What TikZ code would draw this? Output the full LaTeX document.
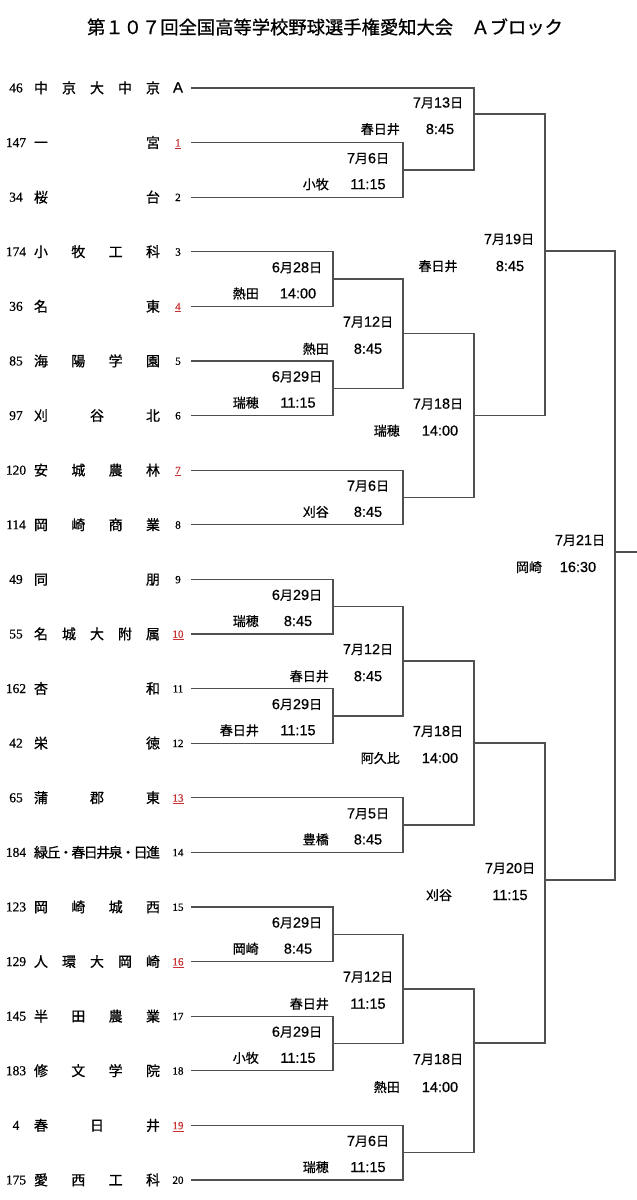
\documentclass[tikz,border=0pt]{standalone}
\usepackage{fontspec}
\setmainfont{Liberation Serif}
\newfontfamily\jp{Noto Sans CJK JP}[FakeBold=0.8]
\newfontfamily\ar{Liberation Sans}[FakeBold=0.6]
\newfontfamily\sr{Liberation Serif}[FakeBold=0.6]
\definecolor{ln}{HTML}{505050}
\definecolor{sd}{HTML}{C83232}
\newcommand{\J}[1]{{\jp\fontsize{13}{13}\selectfont #1}}
\newcommand{\rd}[1]{\textcolor{sd}{\underline{#1}}}
\tikzset{
 bl/.style={draw=ln, line width=1.25pt},
 lb/.style={inner sep=0pt, anchor=base, yshift=-5pt, font=\ar\fontsize{14.5}{14.5}\selectfont},
 vn/.style={inner sep=0pt, anchor=base, yshift=-5pt, font=\jp\fontsize{13}{13}\selectfont},
 vnr/.style={vn, anchor=base east},
 nm/.style={inner sep=0pt, anchor=base, yshift=-5.2pt, font=\jp\fontsize{14}{14}\selectfont},
 num/.style={inner sep=0pt, anchor=base, yshift=-4.4pt, font=\sr\fontsize{13.5}{13.5}\selectfont},
 seed/.style={inner sep=0pt, anchor=base, yshift=-3.8pt, font=\sr\fontsize{11}{11}\selectfont},
}
\newcommand{\team}[5]{%
  \pgfmathsetmacro{\yy}{88+54.6*#1}%
  \node[num] (L#1) at (16,\yy) {#4};%
  \foreach \c [count=\k from 0] in {#3} {%
    \pgfmathsetmacro{\xx}{41+\k*112/(#2-1)}%
    \node[nm] (T#1-\k) at (\xx,\yy) {\c};%
  }%
  \node[seed] (S#1) at (178,\yy) {#5};%
  \coordinate (s#1) at (191,\yy);%
}
\newcommand{\bj}[3]{\draw[bl] (#1) -- (#1 -| #3) -- (#2 -| #3) -- (#2);}
\begin{document}
\begin{tikzpicture}[x=1pt,y=-1pt]
\useasboundingbox (0,0) rectangle (637,1200);
\fill[white] (0,0) rectangle (637,1200);
\node[font=\jp\fontsize{18.3}{18.3}\selectfont, inner sep=0pt, anchor=base, yshift=-7pt] (title) at (325,27) {第１０７回全国高等学校野球選手権愛知大会　Ａブロック};

\team{0}{5}{中,京,大,中,京}{46}{\ar\fontsize{15}{15}\selectfont\raisebox{-0.8pt}{A}}
\team{1}{2}{一,宮}{147}{\rd{1}}
\team{2}{2}{桜,台}{34}{2}
\team{3}{4}{小,牧,工,科}{174}{3}
\team{4}{2}{名,東}{36}{\rd{4}}
\team{5}{4}{海,陽,学,園}{85}{5}
\team{6}{3}{刈,谷,北}{97}{6}
\team{7}{4}{安,城,農,林}{120}{\rd{7}}
\team{8}{4}{岡,崎,商,業}{114}{8}
\team{9}{2}{同,朋}{49}{9}
\team{10}{5}{名,城,大,附,属}{55}{\rd{10}}
\team{11}{2}{杏,和}{162}{11}
\team{12}{2}{栄,徳}{42}{12}
\team{13}{3}{蒲,郡,東}{65}{\rd{13}}
\team{14}{10}{緑,丘,・,春,日,井,泉,・,日,進}{184}{14}
\team{15}{4}{岡,崎,城,西}{123}{15}
\team{16}{5}{人,環,大,岡,崎}{129}{\rd{16}}
\team{17}{4}{半,田,農,業}{145}{17}
\team{18}{4}{修,文,学,院}{183}{18}
\team{19}{3}{春,日,井}{4}{\rd{19}}
\team{20}{4}{愛,西,工,科}{175}{20}

% match points (vertical x, output y)
\coordinate (m12) at (403,169.9);
\coordinate (mA) at (474,114);
\coordinate (m34) at (333,279.1);
\coordinate (m56) at (333,388.3);
\coordinate (m36) at (403,333.7);
\coordinate (m78) at (403,497.5);
\coordinate (m38) at (474,415.6);
\coordinate (mTop) at (545,251);
\coordinate (m910) at (333,606.7);
\coordinate (m1112) at (333,715.9);
\coordinate (m912) at (403,661.1);
\coordinate (m1314) at (403,825.1);
\coordinate (m914) at (474,743);
\coordinate (m1516) at (333,934.3);
\coordinate (m1718) at (333,1043.5);
\coordinate (m1518) at (403,988.9);
\coordinate (m1920) at (403,1152.7);
\coordinate (m1520) at (474,1043);
\coordinate (mBot) at (545,880);
\coordinate (mF) at (615,552);
\coordinate (fin) at (637,552);

\bj{s1}{s2}{m12}
\bj{s0}{m12}{mA}
\bj{s3}{s4}{m34}
\bj{s5}{s6}{m56}
\bj{m34}{m56}{m36}
\bj{s7}{s8}{m78}
\bj{m36}{m78}{m38}
\bj{mA}{m38}{mTop}
\bj{s9}{s10}{m910}
\bj{s11}{s12}{m1112}
\bj{m910}{m1112}{m912}
\bj{s13}{s14}{m1314}
\bj{m912}{m1314}{m914}
\bj{s15}{s16}{m1516}
\bj{s17}{s18}{m1718}
\bj{m1516}{m1718}{m1518}
\bj{s19}{s20}{m1920}
\bj{m1518}{m1920}{m1520}
\bj{m914}{m1520}{mBot}
\bj{mTop}{mBot}{mF}
\draw[bl] (mF) -- (fin);

% labels: first-round boxes (x=333)
\node[lb] (d34) at (297,267.3) {6\J{月}28\J{日}};
\node[vnr] (v34) at (259,293.4) {熱田};
\node[lb] (t34) at (298,293.4) {14:00};
\node[lb] (d56) at (297,376.5) {6\J{月}29\J{日}};
\node[vnr] (v56) at (259,402.6) {瑞穂};
\node[lb] (t56) at (298,402.6) {11:15};
\node[lb] (d910) at (297,594.9) {6\J{月}29\J{日}};
\node[vnr] (v910) at (259,621) {瑞穂};
\node[lb] (t910) at (298,621) {8:45};
\node[lb] (d1112) at (297,704.1) {6\J{月}29\J{日}};
\node[vnr] (v1112) at (259,730.2) {春日井};
\node[lb] (t1112) at (298,730.2) {11:15};
\node[lb] (d1516) at (297,922.5) {6\J{月}29\J{日}};
\node[vnr] (v1516) at (259,948.6) {岡崎};
\node[lb] (t1516) at (298,948.6) {8:45};
\node[lb] (d1718) at (297,1031.7) {6\J{月}29\J{日}};
\node[vnr] (v1718) at (259,1057.8) {小牧};
\node[lb] (t1718) at (298,1057.8) {11:15};

% long first-round boxes (x=403)
\node[lb] (d12) at (368,158.1) {7\J{月}6\J{日}};
\node[vnr] (v12) at (329,184.2) {小牧};
\node[lb] (t12) at (368,184.2) {11:15};
\node[lb] (d78) at (368,485.7) {7\J{月}6\J{日}};
\node[vnr] (v78) at (329,511.8) {刈谷};
\node[lb] (t78) at (368,511.8) {8:45};
\node[lb] (d1314) at (368,813.3) {7\J{月}5\J{日}};
\node[vnr] (v1314) at (329,839.4) {豊橋};
\node[lb] (t1314) at (368,839.4) {8:45};
\node[lb] (d1920) at (368,1140.9) {7\J{月}6\J{日}};
\node[vnr] (v1920) at (329,1167) {瑞穂};
\node[lb] (t1920) at (368,1167) {11:15};

% joins at x=403
\node[lb] (d36) at (368,321.7) {7\J{月}12\J{日}};
\node[vnr] (v36) at (329,348.7) {熱田};
\node[lb] (t36) at (368,348.7) {8:45};
\node[lb] (d912) at (368,649.1) {7\J{月}12\J{日}};
\node[vnr] (v912) at (329,676.1) {春日井};
\node[lb] (t912) at (368,676.1) {8:45};
\node[lb] (d1518) at (368,976.7) {7\J{月}12\J{日}};
\node[vnr] (v1518) at (329,1003.7) {春日井};
\node[lb] (t1518) at (368,1003.7) {11:15};

% joins at x=474
\node[lb] (dA) at (438,102.5) {7\J{月}13\J{日}};
\node[vnr] (vA) at (400,129) {春日井};
\node[lb] (tA) at (440,129) {8:45};
\node[lb] (d38) at (438,403.6) {7\J{月}18\J{日}};
\node[vnr] (v38) at (400,430.6) {瑞穂};
\node[lb] (t38) at (440,430.6) {14:00};
\node[lb] (d914) at (438,731) {7\J{月}18\J{日}};
\node[vnr] (v914) at (400,758) {阿久比};
\node[lb] (t914) at (440,758) {14:00};
\node[lb] (d1520) at (438,1059) {7\J{月}18\J{日}};
\node[vnr] (v1520) at (400,1087) {熱田};
\node[lb] (t1520) at (440,1087) {14:00};

% joins at x=545
\node[lb] (dTop) at (509,239) {7\J{月}19\J{日}};
\node[vn] (vTop) at (438,266) {春日井};
\node[lb] (tTop) at (510,266) {8:45};
\node[lb] (dBot) at (510,868) {7\J{月}20\J{日}};
\node[vn] (vBot) at (439,895) {刈谷};
\node[lb] (tBot) at (510,895) {11:15};

% final
\node[lb] (dF) at (580,540) {7\J{月}21\J{日}};
\node[vn] (vF) at (529,567) {岡崎};
\node[lb] (tF) at (578,567) {16:30};
\end{tikzpicture}
\end{document}
